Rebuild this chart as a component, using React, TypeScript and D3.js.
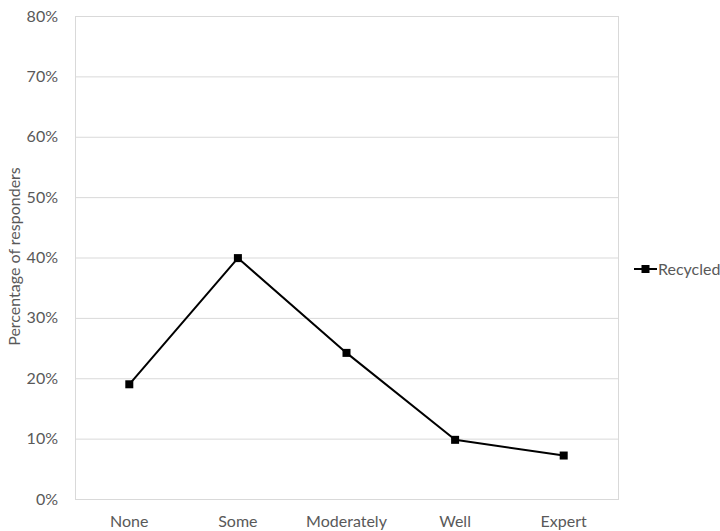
import React from "react";
import * as d3 from "d3";

const categories = ["None", "Some", "Moderately", "Well", "Expert"];
const recycled = [19.0, 39.9, 24.2, 9.8, 7.2];
const yTicks = [0, 10, 20, 30, 40, 50, 60, 70, 80];
const seriesName = "Recycled";
const yTitle = "Percentage of responders";

const W = 720;
const H = 531;
const plot = { left: 75, right: 618, top: 16, bottom: 499 };
const FONT = "Lato, 'Open Sans', sans-serif";
const FS = 16;
const TEXT = "#595959";
const GRID = "#d9d9d9";

export default function App() {
  const x = d3
    .scaleBand<string>()
    .domain(categories)
    .range([plot.left, plot.right]);
  const y = d3.scaleLinear().domain([0, 80]).range([plot.bottom, plot.top]);
  const cx = (c: string) => (x(c) as number) + x.bandwidth() / 2;

  const line = d3
    .line<number>()
    .x((_, i) => cx(categories[i]))
    .y((d) => y(d));

  const ms = 8;
  const legendY = 269;

  return (
    <svg
      width={W}
      height={H}
      style={{ position: "absolute", left: 0, top: 0 }}
      fontFamily={FONT}
    >
      <rect width={W} height={H} fill="#fff" />
      {yTicks.map((t) => (
        <g key={t}>
          <line
            x1={plot.left}
            x2={plot.right}
            y1={y(t) + 0.5}
            y2={y(t) + 0.5}
            stroke={GRID}
            strokeWidth={1}
          />
          <text
            x={58}
            y={y(t)}
            dy="0.35em"
            textAnchor="end"
            fontSize={FS}
            fill={TEXT}
          >
            {t}%
          </text>
        </g>
      ))}
      <rect
        x={plot.left + 0.5}
        y={plot.top + 0.5}
        width={plot.right - plot.left}
        height={plot.bottom - plot.top}
        fill="none"
        stroke={GRID}
        strokeWidth={1}
      />
      {categories.map((c) => (
        <text
          key={c}
          x={cx(c)}
          y={527}
          textAnchor="middle"
          fontSize={FS}
          fill={TEXT}
        >
          {c}
        </text>
      ))}
      <text
        transform={`translate(20,${(plot.top + plot.bottom) / 2 - 1}) rotate(-90)`}
        textAnchor="middle"
        fontSize={FS}
        fill={TEXT}
      >
        {yTitle}
      </text>
      <path
        d={line(recycled) ?? ""}
        fill="none"
        stroke="#000"
        strokeWidth={2}
        strokeLinejoin="round"
      />
      {recycled.map((v, i) => (
        <rect
          key={i}
          x={cx(categories[i]) - ms / 2}
          y={y(v) - ms / 2}
          width={ms}
          height={ms}
          fill="#000"
        />
      ))}
      <line x1={634} x2={657} y1={legendY} y2={legendY} stroke="#000" strokeWidth={2} />
      <rect x={645.5 - ms / 2} y={legendY - ms / 2} width={ms} height={ms} fill="#000" />
      <text x={658} y={legendY} dy="0.35em" fontSize={FS} fill={TEXT}>
        {seriesName}
      </text>
    </svg>
  );
}
